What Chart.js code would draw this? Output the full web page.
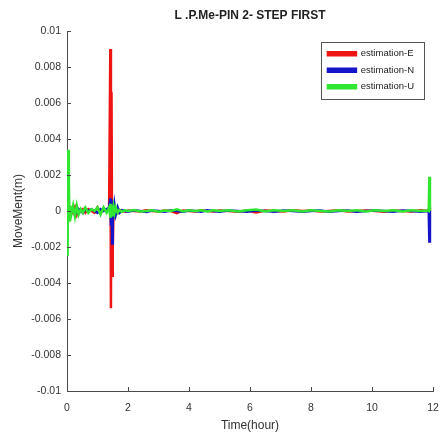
<!DOCTYPE html>
<html lang="en">
<head>
  <meta charset="UTF-8" />
  <title>L .P.Me-PIN 2- STEP FIRST</title>
  <script src="https://cdn.jsdelivr.net/npm/chart.js@4"></script>
  <style>
    html, body {
      margin: 0;
      padding: 0;
      background: #fff;
    }
    #wrap {
      width: 441px;
      height: 437px;
    }
  </style>
</head>
<body>
  <div id="wrap"><canvas id="chart" width="441" height="437"></canvas></div>

  <script>
    // time in hours
    const hours = [
      0, 0.02, 0.04, 0.06, 0.08, 0.1, 0.14, 0.2, 0.26, 0.32, 0.38, 0.45, 0.52, 0.6, 0.7, 0.8,
      0.9, 1.0, 1.1, 1.2, 1.3, 1.38, 1.42, 1.44, 1.46, 1.48, 1.5, 1.53, 1.56, 1.6, 1.66, 1.72,
      1.8, 1.9, 2.0, 2.2, 2.4, 2.6, 2.8, 3.0, 3.2, 3.4, 3.6, 3.8, 4.0, 4.2, 4.4, 4.6,
      4.8, 5.0, 5.3, 5.6, 5.9, 6.2, 6.5, 6.8, 7.1, 7.4, 7.7, 8.0, 8.3, 8.6, 8.9, 9.2,
      9.5, 9.8, 10.1, 10.4, 10.7, 11.0, 11.3, 11.6, 11.82, 11.86, 11.88, 11.9
    ];

    const estE = [
      0.0004, -0.0006, 0.0005, -0.0004, 0.0002, -0.0001, 0.0001, -0.0001, 0.0002, -0.0002, 0.0001, 0.0000, 0.0001, -0.0001, 0.0001, 0.0000,
      -0.0001, 0.0002, -0.0001, 0.0001, 0.0000, 0.0001, 0.0090, -0.0054, 0.0066, -0.0036, -0.0021, 0.0003, -0.0002, 0.0001, -0.0001, 0.00005,
      0.0000, -0.00004, 0.00003, 0.0000, -0.00003, 0.00004, 0.0000, -0.00003, 0.00003, 0.0000, -0.00012, 0.00003, 0.0000, -0.00003, 0.00004, 0.0000,
      -0.00003, 0.00003, 0.0000, -0.00004, 0.00003, -0.00008, 0.00003, 0.0000, -0.00003, 0.00004, 0.0000, 0.00003, -0.00003, 0.0000, 0.00004, -0.00003,
      0.0000, 0.00003, 0.0000, -0.00004, 0.00003, 0.0000, -0.00003, 0.00004, 0.0000, 0.00003, 0.0002, 0.0000
    ];

    const estN = [
      0.0001, -0.0002, 0.0002, -0.0001, 0.0001, 0.0000, -0.0001, 0.0001, 0.0000, -0.0001, 0.0001, 0.0000, -0.0001, 0.0001, 0.0000, 0.0001,
      0.0000, -0.0001, 0.0001, 0.0000, 0.0001, 0.0002, 0.0007, -0.0008, 0.0006, -0.0018, 0.0003, -0.0004, 0.0003, -0.0002, 0.0002, -0.0001,
      0.00005, 0.0000, -0.00004, 0.00004, 0.0000, -0.00005, 0.00003, 0.0000, -0.00004, 0.00003, 0.0000, -0.00004, 0.00003, 0.0000, -0.00004, 0.00004,
      0.0000, -0.00004, 0.00003, 0.0000, -0.00004, 0.00003, 0.0000, -0.00004, 0.00003, 0.0000, -0.00004, 0.0000, 0.00003, -0.00004, 0.0000, 0.00003,
      -0.00004, 0.0000, 0.00003, 0.0000, -0.00004, 0.00003, 0.0000, -0.00004, 0.0000, 0.0000, -0.0017, 0.0000
    ];

    const estU = [
      -0.0003, -0.0025, 0.0034, 0.0018, -0.0006, 0.0003, -0.0002, 0.0003, -0.0003, 0.0003, -0.0002, 0.0001, -0.0001, 0.0002, -0.0001, 0.0001,
      0.0000, 0.0002, -0.0002, 0.0002, -0.0001, 0.0002, -0.0003, 0.0004, -0.0002, 0.0003, -0.0003, 0.0002, -0.0001, 0.0002, -0.0001, 0.00005,
      -0.00004, 0.00004, 0.0000, 0.00005, -0.00003, 0.0000, 0.00004, -0.00004, 0.00003, 0.0000, 0.0001, -0.00003, 0.00004, 0.0000, 0.00004, -0.00003,
      0.00004, 0.0000, 0.00004, -0.00003, 0.00004, 0.00008, -0.00003, 0.00004, 0.0000, 0.00004, -0.00003, 0.00004, 0.0000, -0.00003, 0.00004, 0.0000,
      0.00004, -0.00003, 0.00004, 0.0000, 0.00004, -0.00003, 0.00004, 0.0000, 0.00003, 0.0000, 0.0019, 0.0000
    ];

    const seriesNames = ["estimation-E", "estimation-N", "estimation-U"];
    const seriesColors = ["#ee1414", "#1414c8", "#30e630"];
    const xTicks = [0, 2, 4, 6, 8, 10, 12];
    const yTicks = [-0.01, -0.008, -0.006, -0.004, -0.002, 0, 0.002, 0.004, 0.006, 0.008, 0.01];

    const fontFamily = "'Liberation Sans Narrow', 'Liberation Sans', Arial, sans-serif";
    const axisColor = "#4a4a4a";
    const textColor = "#333";

    function toPoints(vals) {
      return hours.map((t, i) => ({ x: t, y: vals[i] }));
    }

    // matlab look: title over the axes, legend box top right, ticks pointing inward
    const matlabBits = {
      id: "matlabBits",
      afterLayout(chart) {
        const area = chart.chartArea;
        const tb = chart.titleBlock;
        tb.left = area.left;
        tb.right = area.right;
        tb.width = area.right - area.left;

        const lg = chart.legend;
        const pad = lg.options.labels.padding;
        const w = lg.width;
        const h = lg.columnSizes && lg.columnSizes.length ? lg.columnSizes[0].height + pad : lg.height;
        lg.left = area.right - 9 - w;
        lg.right = lg.left + w;
        lg.top = area.top + 11;
        lg.bottom = lg.top + h;
        lg.height = h;
      },
      afterDraw(chart) {
        const ctx = chart.ctx;
        const area = chart.chartArea;
        const xs = chart.scales.x, ys = chart.scales.y;
        ctx.save();
        ctx.strokeStyle = axisColor;
        ctx.lineWidth = 1;
        ctx.beginPath();
        xTicks.forEach(v => {
          const px = Math.round(xs.getPixelForValue(v)) + 0.5;
          ctx.moveTo(px, area.bottom);
          ctx.lineTo(px, area.bottom - 4);
        });
        yTicks.forEach(v => {
          const py = Math.round(ys.getPixelForValue(v)) + 0.5;
          ctx.moveTo(area.left, py);
          ctx.lineTo(area.left + 4, py);
        });
        ctx.stroke();
        const lg = chart.legend;
        ctx.strokeStyle = "#555";
        ctx.strokeRect(Math.round(lg.left) + 0.5, Math.round(lg.top) + 0.5, Math.round(lg.width), Math.round(lg.height));
        ctx.restore();
      }
    };

    new Chart(document.getElementById("chart"), {
      type: "line",
      data: {
        datasets: seriesNames.map((name, i) => ({
          label: name,
          data: toPoints([estE, estN, estU][i]),
          borderColor: seriesColors[i],
          backgroundColor: seriesColors[i],
          borderWidth: 2.5,
          pointRadius: 0,
          tension: 0,
          order: 2 - i
        }))
      },
      options: {
        responsive: false,
        animation: false,
        events: [],
        layout: { padding: { left: 0, right: 0, top: 0, bottom: 0 } },
        plugins: {
          title: {
            display: true,
            text: "L .P.Me-PIN 2- STEP FIRST",
            color: "#222",
            font: { family: fontFamily, size: 12, weight: "bold" },
            padding: { top: 8, bottom: 8.6 }
          },
          legend: {
            position: "chartArea",
            align: "start",
            labels: {
              boxWidth: 28,
              boxHeight: 3,
              padding: 7,
              color: "#222",
              font: { family: fontFamily, size: 9.5 },
              sort: (a, b) => a.datasetIndex - b.datasetIndex
            }
          },
          tooltip: { enabled: false }
        },
        scales: {
          x: {
            type: "linear",
            min: 0,
            max: 12,
            afterFit: s => { s.height = 46; s.paddingLeft = 0; s.paddingRight = 8; },
            afterBuildTicks: s => { s.ticks = xTicks.map(v => ({ value: v })); },
            grid: { display: false, drawTicks: false },
            border: { display: true, color: axisColor, width: 1 },
            ticks: {
              color: textColor,
              font: { family: fontFamily, size: 10.5 },
              padding: 11,
              maxRotation: 0,
              callback: v => String(v)
            },
            title: {
              display: true,
              text: "Time(hour)",
              color: textColor,
              font: { family: fontFamily, size: 12 },
              padding: { top: 0, bottom: 3.8 }
            }
          },
          y: {
            min: -0.01,
            max: 0.01,
            afterFit: s => { s.width = 67; },
            afterBuildTicks: s => { s.ticks = yTicks.map(v => ({ value: v })); },
            grid: { display: false, drawTicks: false },
            border: { display: true, color: axisColor, width: 1 },
            ticks: {
              color: textColor,
              font: { family: fontFamily, size: 10.5 },
              padding: 6,
              callback: v => String(parseFloat(v.toFixed(4)))
            },
            title: {
              display: true,
              text: "MoveMent(m)",
              color: textColor,
              font: { family: fontFamily, size: 12 },
              padding: { top: 11, bottom: 0 }
            }
          }
        }
      },
      plugins: [matlabBits]
    });
  </script>
</body>
</html>
